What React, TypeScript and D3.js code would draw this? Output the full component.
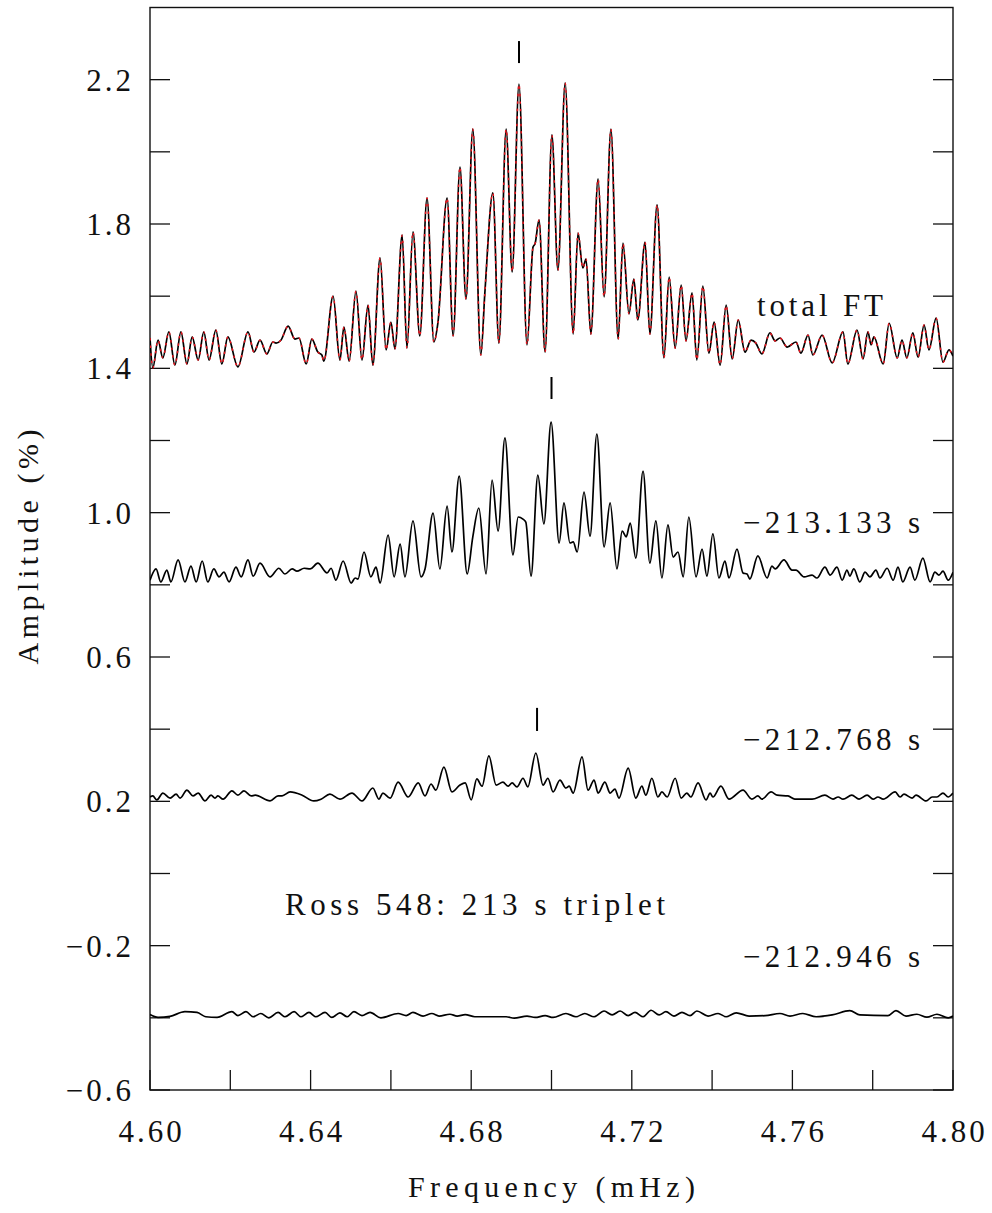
import React from 'react';
import * as d3 from 'd3';

type Pt = [number, number];

// Total Fourier transform (frequency in mHz, amplitude in %), offset by +1.4
const totalFT: Pt[] = [
  [4.6000, 1.484], [4.6007, 1.401], [4.6020, 1.478], [4.6032, 1.429], [4.6047, 1.501],
  [4.6062, 1.409], [4.6077, 1.501], [4.6092, 1.412], [4.6105, 1.487], [4.6120, 1.423],
  [4.6134, 1.501], [4.6147, 1.423], [4.6164, 1.506], [4.6179, 1.412], [4.6194, 1.487],
  [4.6219, 1.404], [4.6244, 1.501], [4.6259, 1.445], [4.6274, 1.478], [4.6291, 1.440],
  [4.6306, 1.473], [4.6314, 1.470], [4.6326, 1.478], [4.6344, 1.517], [4.6361, 1.481],
  [4.6371, 1.484], [4.6389, 1.412], [4.6403, 1.481], [4.6418, 1.445], [4.6428, 1.437],
  [4.6433, 1.420], [4.6456, 1.600], [4.6473, 1.423], [4.6483, 1.514], [4.6496, 1.420],
  [4.6513, 1.614], [4.6528, 1.423], [4.6543, 1.575], [4.6555, 1.409], [4.6573, 1.706],
  [4.6588, 1.451], [4.6600, 1.528], [4.6610, 1.454], [4.6628, 1.769], [4.6640, 1.456],
  [4.6655, 1.778], [4.6672, 1.490], [4.6690, 1.872], [4.6707, 1.473], [4.6717, 1.525],
  [4.6740, 1.872], [4.6755, 1.490], [4.6772, 1.958], [4.6787, 1.592], [4.6804, 2.063],
  [4.6824, 1.437], [4.6834, 1.609], [4.6854, 1.886], [4.6869, 1.470], [4.6887, 2.063],
  [4.6902, 1.667], [4.6919, 2.188], [4.6939, 1.465], [4.6954, 1.736], [4.6959, 1.745],
  [4.6969, 1.811], [4.6984, 1.445], [4.7001, 2.047], [4.7016, 1.672], [4.7034, 2.191],
  [4.7054, 1.495], [4.7066, 1.775], [4.7078, 1.678], [4.7086, 1.703], [4.7098, 1.495],
  [4.7116, 1.925], [4.7131, 1.598], [4.7148, 2.063], [4.7166, 1.481], [4.7178, 1.747],
  [4.7193, 1.551], [4.7205, 1.647], [4.7215, 1.534], [4.7233, 1.750], [4.7245, 1.495],
  [4.7263, 1.853], [4.7280, 1.429], [4.7293, 1.653], [4.7308, 1.456], [4.7323, 1.631],
  [4.7335, 1.476], [4.7350, 1.609], [4.7362, 1.423], [4.7377, 1.628], [4.7392, 1.442],
  [4.7405, 1.528], [4.7420, 1.409], [4.7435, 1.575], [4.7450, 1.426], [4.7465, 1.534],
  [4.7482, 1.445], [4.7497, 1.478], [4.7509, 1.470], [4.7524, 1.440], [4.7544, 1.498],
  [4.7557, 1.476], [4.7569, 1.484], [4.7587, 1.459], [4.7609, 1.473], [4.7621, 1.442],
  [4.7639, 1.492], [4.7651, 1.437], [4.7674, 1.492], [4.7699, 1.415], [4.7726, 1.501],
  [4.7738, 1.412], [4.7761, 1.506], [4.7776, 1.426], [4.7788, 1.501], [4.7796, 1.465],
  [4.7803, 1.487], [4.7826, 1.412], [4.7841, 1.525], [4.7861, 1.429], [4.7873, 1.478],
  [4.7885, 1.429], [4.7900, 1.498], [4.7913, 1.431], [4.7928, 1.520], [4.7940, 1.451],
  [4.7958, 1.539], [4.7975, 1.417], [4.7990, 1.451], [4.8000, 1.434],
];

// Multi-component fit to the total transform (dashed overlay)
const fitFT: Pt[] = totalFT;

// Prewhitened component, -213.133 s (offset +0.8)
const comp213133: Pt[] = [
  [4.6000, 0.813], [4.6015, 0.844], [4.6027, 0.808], [4.6042, 0.841], [4.6052, 0.808],
  [4.6070, 0.869], [4.6087, 0.808], [4.6102, 0.852], [4.6115, 0.808], [4.6130, 0.866],
  [4.6144, 0.808], [4.6159, 0.844], [4.6172, 0.822], [4.6184, 0.835], [4.6197, 0.808],
  [4.6214, 0.849], [4.6227, 0.822], [4.6244, 0.869], [4.6257, 0.824], [4.6274, 0.860],
  [4.6299, 0.822], [4.6321, 0.846], [4.6336, 0.830], [4.6354, 0.844], [4.6366, 0.838],
  [4.6384, 0.846], [4.6399, 0.844], [4.6418, 0.860], [4.6441, 0.833], [4.6451, 0.846],
  [4.6463, 0.813], [4.6481, 0.866], [4.6501, 0.805], [4.6511, 0.819], [4.6518, 0.816],
  [4.6533, 0.891], [4.6550, 0.822], [4.6563, 0.849], [4.6573, 0.805], [4.6593, 0.938],
  [4.6608, 0.822], [4.6623, 0.913], [4.6635, 0.822], [4.6655, 0.977], [4.6675, 0.822],
  [4.6685, 0.844], [4.6705, 0.999], [4.6722, 0.844], [4.6740, 1.018], [4.6752, 0.891],
  [4.6770, 1.101], [4.6790, 0.830], [4.6804, 0.933], [4.6819, 1.013], [4.6837, 0.830],
  [4.6852, 1.090], [4.6867, 0.949], [4.6884, 1.207], [4.6904, 0.883], [4.6917, 0.988],
  [4.6929, 0.982], [4.6936, 0.974], [4.6949, 0.824], [4.6966, 1.104], [4.6981, 0.969],
  [4.6999, 1.251], [4.7019, 0.916], [4.7031, 1.027], [4.7046, 0.916], [4.7054, 0.919],
  [4.7064, 0.891], [4.7081, 1.057], [4.7096, 0.935], [4.7113, 1.218], [4.7131, 0.905],
  [4.7146, 1.027], [4.7163, 0.844], [4.7176, 0.949], [4.7186, 0.933], [4.7196, 0.971],
  [4.7210, 0.874], [4.7228, 1.115], [4.7245, 0.860], [4.7260, 0.977], [4.7275, 0.819],
  [4.7290, 0.966], [4.7303, 0.877], [4.7315, 0.891], [4.7328, 0.822], [4.7342, 0.988],
  [4.7360, 0.822], [4.7375, 0.899], [4.7387, 0.824], [4.7402, 0.941], [4.7417, 0.819],
  [4.7432, 0.866], [4.7442, 0.819], [4.7462, 0.899], [4.7477, 0.833], [4.7487, 0.830],
  [4.7494, 0.816], [4.7514, 0.880], [4.7537, 0.819], [4.7549, 0.852], [4.7557, 0.844],
  [4.7579, 0.869], [4.7599, 0.841], [4.7609, 0.841], [4.7629, 0.822], [4.7649, 0.827],
  [4.7661, 0.819], [4.7681, 0.849], [4.7694, 0.827], [4.7711, 0.849], [4.7724, 0.813],
  [4.7736, 0.841], [4.7743, 0.824], [4.7753, 0.844], [4.7768, 0.808], [4.7781, 0.835],
  [4.7793, 0.822], [4.7808, 0.841], [4.7818, 0.819], [4.7836, 0.846], [4.7851, 0.813],
  [4.7863, 0.849], [4.7875, 0.808], [4.7893, 0.849], [4.7905, 0.813], [4.7925, 0.874],
  [4.7943, 0.808], [4.7955, 0.835], [4.7965, 0.827], [4.7975, 0.838], [4.7988, 0.813],
  [4.8000, 0.835],
];

// Prewhitened component, -212.768 s (offset +0.2)
const comp212768: Pt[] = [
  [4.6000, 0.212], [4.6007, 0.215], [4.6017, 0.204], [4.6032, 0.223], [4.6050, 0.209],
  [4.6065, 0.220], [4.6075, 0.209], [4.6092, 0.231], [4.6107, 0.215], [4.6120, 0.223],
  [4.6137, 0.201], [4.6152, 0.217], [4.6162, 0.209], [4.6169, 0.215], [4.6182, 0.206],
  [4.6204, 0.229], [4.6219, 0.217], [4.6234, 0.229], [4.6252, 0.215], [4.6262, 0.217],
  [4.6299, 0.201], [4.6319, 0.215], [4.6329, 0.215], [4.6349, 0.226], [4.6379, 0.217],
  [4.6408, 0.201], [4.6426, 0.206], [4.6448, 0.220], [4.6473, 0.206], [4.6503, 0.223],
  [4.6528, 0.201], [4.6555, 0.237], [4.6570, 0.206], [4.6580, 0.223], [4.6598, 0.209],
  [4.6618, 0.253], [4.6643, 0.212], [4.6668, 0.251], [4.6685, 0.215], [4.6700, 0.248],
  [4.6712, 0.231], [4.6732, 0.295], [4.6752, 0.226], [4.6772, 0.245], [4.6785, 0.251],
  [4.6800, 0.204], [4.6814, 0.262], [4.6827, 0.242], [4.6844, 0.326], [4.6862, 0.245],
  [4.6879, 0.253], [4.6892, 0.242], [4.6902, 0.251], [4.6914, 0.240], [4.6929, 0.264],
  [4.6941, 0.240], [4.6961, 0.334], [4.6979, 0.245], [4.6991, 0.264], [4.7004, 0.226],
  [4.7021, 0.259], [4.7036, 0.237], [4.7044, 0.242], [4.7054, 0.223], [4.7076, 0.323],
  [4.7091, 0.231], [4.7106, 0.259], [4.7116, 0.223], [4.7133, 0.253], [4.7146, 0.223],
  [4.7158, 0.234], [4.7168, 0.209], [4.7191, 0.292], [4.7210, 0.209], [4.7225, 0.242],
  [4.7235, 0.217], [4.7250, 0.264], [4.7265, 0.212], [4.7275, 0.226], [4.7288, 0.212],
  [4.7308, 0.264], [4.7323, 0.209], [4.7337, 0.223], [4.7347, 0.212], [4.7365, 0.251],
  [4.7385, 0.204], [4.7395, 0.223], [4.7402, 0.212], [4.7422, 0.242], [4.7442, 0.206],
  [4.7477, 0.231], [4.7499, 0.206], [4.7514, 0.215], [4.7524, 0.206], [4.7547, 0.226],
  [4.7562, 0.217], [4.7589, 0.215], [4.7606, 0.206], [4.7649, 0.206], [4.7681, 0.217],
  [4.7701, 0.206], [4.7714, 0.212], [4.7726, 0.206], [4.7748, 0.217], [4.7766, 0.206],
  [4.7786, 0.217], [4.7801, 0.206], [4.7813, 0.212], [4.7826, 0.206], [4.7856, 0.226],
  [4.7868, 0.212], [4.7878, 0.220], [4.7898, 0.209], [4.7908, 0.217], [4.7933, 0.201],
  [4.7948, 0.212], [4.7960, 0.212], [4.7975, 0.223], [4.7988, 0.212], [4.8000, 0.223],
];

// Residual after removing the triplet, -212.946 s (offset -0.4)
const comp212946: Pt[] = [
  [4.6000, -0.391], [4.6020, -0.399], [4.6050, -0.396], [4.6087, -0.383], [4.6117, -0.385],
  [4.6139, -0.397], [4.6167, -0.399], [4.6204, -0.383], [4.6219, -0.394], [4.6239, -0.383],
  [4.6257, -0.397], [4.6276, -0.388], [4.6296, -0.400], [4.6319, -0.385], [4.6336, -0.397],
  [4.6359, -0.383], [4.6376, -0.397], [4.6396, -0.385], [4.6413, -0.397], [4.6436, -0.385],
  [4.6453, -0.399], [4.6473, -0.386], [4.6491, -0.397], [4.6508, -0.383], [4.6528, -0.394],
  [4.6548, -0.385], [4.6575, -0.400], [4.6618, -0.388], [4.6638, -0.394], [4.6655, -0.385],
  [4.6680, -0.395], [4.6702, -0.388], [4.6720, -0.395], [4.6747, -0.390], [4.6765, -0.395],
  [4.6785, -0.391], [4.6809, -0.397], [4.6887, -0.397], [4.6907, -0.401], [4.6939, -0.395],
  [4.6959, -0.399], [4.6984, -0.394], [4.7004, -0.399], [4.7036, -0.388], [4.7061, -0.397],
  [4.7083, -0.388], [4.7106, -0.397], [4.7131, -0.381], [4.7151, -0.392], [4.7171, -0.381],
  [4.7191, -0.394], [4.7208, -0.385], [4.7228, -0.397], [4.7248, -0.379], [4.7268, -0.392],
  [4.7285, -0.383], [4.7305, -0.395], [4.7325, -0.385], [4.7345, -0.394], [4.7362, -0.381],
  [4.7390, -0.395], [4.7415, -0.388], [4.7435, -0.397], [4.7460, -0.386], [4.7492, -0.395],
  [4.7532, -0.394], [4.7569, -0.388], [4.7594, -0.395], [4.7626, -0.388], [4.7659, -0.397],
  [4.7699, -0.392], [4.7743, -0.380], [4.7768, -0.392], [4.7838, -0.394], [4.7858, -0.380],
  [4.7883, -0.395], [4.7910, -0.390], [4.7935, -0.398], [4.7960, -0.390], [4.7988, -0.400],
  [4.8000, -0.395],
];

// Identified peak positions: [frequency, bottom, top] of each short marker
const peakMarks: [number, number, number][] = [
  [4.6919, 2.246, 2.307],
  [4.7000, 1.315, 1.376],
  [4.6964, 0.395, 0.459],
];

const xTicks = [4.60, 4.62, 4.64, 4.66, 4.68, 4.70, 4.72, 4.74, 4.76, 4.78, 4.80];
const xTickLabels: [number, string][] = [
  [4.60, '4.60'], [4.64, '4.64'], [4.68, '4.68'], [4.72, '4.72'], [4.76, '4.76'], [4.80, '4.80'],
];
const yTicks = [-0.6, -0.4, -0.2, 0.0, 0.2, 0.4, 0.6, 0.8, 1.0, 1.2, 1.4, 1.6, 1.8, 2.0, 2.2];
const yTickLabels: [number, string][] = [
  [-0.6, '\u22120.6'], [-0.2, '\u22120.2'], [0.2, '0.2'], [0.6, '0.6'],
  [1.0, '1.0'], [1.4, '1.4'], [1.8, '1.8'], [2.2, '2.2'],
];

// Curve labels and the amplitude of their baselines
const curveLabels: [string, number][] = [
  ['total FT', 1.545],
  ['\u2212213.133 s', 0.944],
  ['\u2212212.768 s', 0.342],
  ['\u2212212.946 s', -0.259],
];

const FONT = "'Liberation Serif', 'Times New Roman', serif";

export default function App() {
  const left = 150, right = 953, top = 7.5, bottom = 1090;
  const x = d3.scaleLinear().domain([4.6, 4.8]).range([left, right]);
  const y = d3.scaleLinear().domain([-0.6, 2.4]).range([bottom, top]);
  const line = d3
    .line<Pt>()
    .x((d) => x(d[0]))
    .y((d) => y(d[1]))
    .curve(d3.curveMonotoneX);

  const tickLen = 20;
  const labelWidths = [126, 177, 177, 177];

  return (
    <svg
      width={992}
      height={1213}
      viewBox="0 0 992 1213"
      style={{ position: 'absolute', left: 0, top: 0, background: '#fff' }}
      fontFamily={FONT}
    >
      <rect x={0} y={0} width={992} height={1213} fill="#fff" />

      <defs>
        <clipPath id="plotArea">
          <rect x={left} y={top} width={right - left} height={bottom - top} />
        </clipPath>
      </defs>

      {/* frame */}
      <rect x={left} y={top} width={right - left} height={bottom - top} fill="none" stroke="#111" strokeWidth={1.4} />

      {/* x ticks */}
      {xTicks.map((t) => (
        <line key={'xt' + t} x1={x(t)} x2={x(t)} y1={bottom} y2={bottom - tickLen} stroke="#111" strokeWidth={1.3} />
      ))}
      {xTickLabels.map(([v, s]) => (
        <text key={'xl' + v} x={x(v) + 1.5} y={1142} fontSize={31} letterSpacing={3} textAnchor="middle" fill="#111">
          {s}
        </text>
      ))}

      {/* y ticks, both sides */}
      {yTicks.map((t) => (
        <g key={'yt' + t}>
          <line x1={left} x2={left + tickLen} y1={y(t)} y2={y(t)} stroke="#111" strokeWidth={1.3} />
          <line x1={right} x2={right - tickLen} y1={y(t)} y2={y(t)} stroke="#111" strokeWidth={1.3} />
        </g>
      ))}
      {yTickLabels.map(([v, s]) => (
        <text key={'yl' + v} x={134} y={y(v) + 11} fontSize={31} letterSpacing={3} textAnchor="end" fill="#111">
          {s}
        </text>
      ))}

      {/* axis titles */}
      <text x={408} y={1197} fontSize={30} textLength={287} lengthAdjust="spacing" fill="#111">
        Frequency (mHz)
      </text>
      <text
        transform="translate(38,547) rotate(-90)"
        fontSize={30}
        textAnchor="middle"
        textLength={235}
        lengthAdjust="spacing"
        fill="#111"
      >
        Amplitude (%)
      </text>

      {/* spectra */}
      <g clipPath="url(#plotArea)" fill="none" strokeLinejoin="round">
        <path d={line(totalFT) ?? ''} stroke="#000" strokeWidth={1.7} />
        <path d={line(fitFT) ?? ''} stroke="#e8141c" strokeWidth={1.5} strokeDasharray="2.5 5" />
        <path d={line(comp213133) ?? ''} stroke="#000" strokeWidth={1.7} />
        <path d={line(comp212768) ?? ''} stroke="#000" strokeWidth={1.7} />
        <path d={line(comp212946) ?? ''} stroke="#000" strokeWidth={1.7} />
      </g>

      {/* peak markers */}
      {peakMarks.map(([f, lo, hi], i) => (
        <line key={'pm' + i} x1={x(f)} x2={x(f)} y1={y(lo)} y2={y(hi)} stroke="#000" strokeWidth={2} />
      ))}

      {/* curve labels */}
      {curveLabels.map(([s, v], i) => (
        <text
          key={'cl' + i}
          x={i === 0 ? 757 : 743}
          y={y(v)}
          fontSize={31}
          textLength={labelWidths[i]}
          lengthAdjust="spacing"
          fill="#111"
        >
          {s}
        </text>
      ))}

      <text x={285} y={915} fontSize={31} textLength={380} lengthAdjust="spacing" fill="#111">
        Ross 548: 213 s triplet
      </text>
    </svg>
  );
}
